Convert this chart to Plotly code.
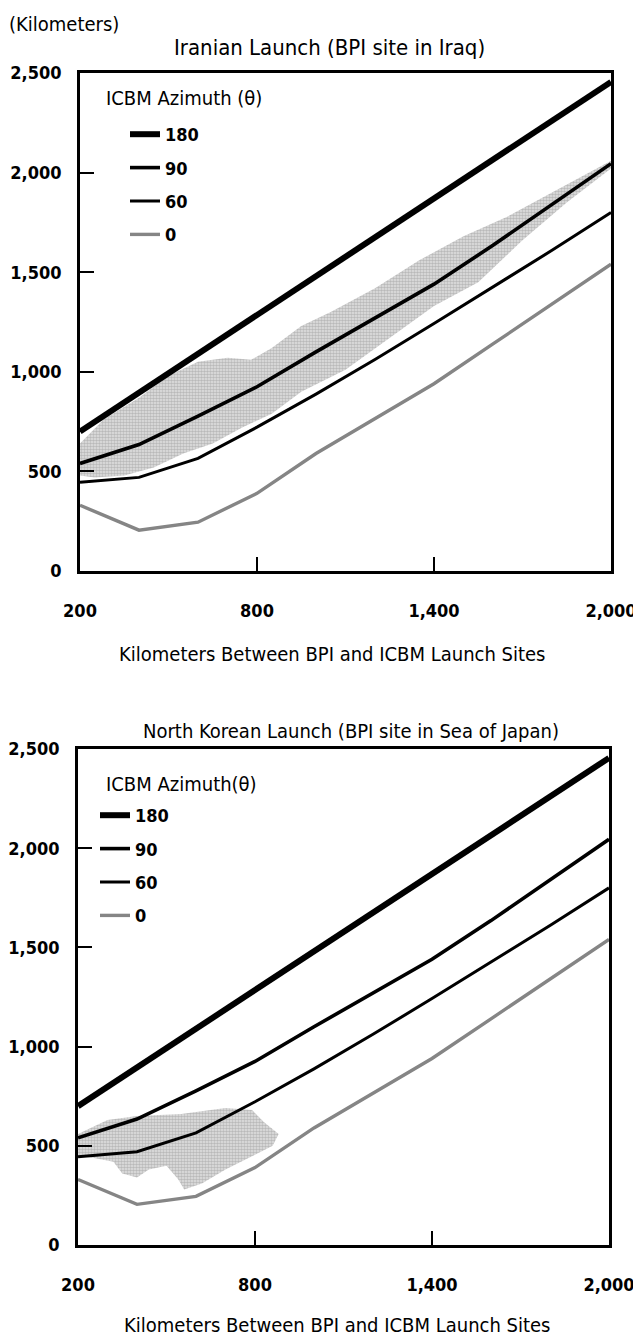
import plotly.graph_objects as go

# ---------------- data ----------------
x_km = [200, 400, 600, 800, 1000, 1200, 1400, 1600, 1800, 2000]
az180 = [700, 895, 1090, 1285, 1480, 1675, 1870, 2065, 2260, 2455]
az90 = [540, 635, 777, 925, 1100, 1270, 1440, 1635, 1840, 2045]
az60 = [445, 470, 565, 722, 888, 1062, 1242, 1425, 1610, 1800]
az0 = [330, 205, 245, 390, 590, 765, 940, 1140, 1340, 1540]

series_names = ["180", "90", "60", "0"]

# shaded (dotted) regions, as boundary points in data units
iran_shade_x = [200, 280, 400, 500, 600, 700, 780, 850, 950, 1050, 1200, 1350, 1500, 1650, 1800, 1950, 2000,
                2000, 1850, 1700, 1550, 1400, 1250, 1100, 950, 850, 750, 650, 550, 450, 350, 250, 200]
iran_shade_y = [640, 760, 870, 980, 1050, 1070, 1060, 1120, 1230, 1300, 1420, 1560, 1680, 1780, 1900, 2020, 2060,
                2020, 1850, 1660, 1450, 1330, 1170, 1010, 900, 790, 720, 640, 590, 520, 480, 470, 480]

korea_shade_x = [200, 300, 400, 550, 700, 790, 830, 880, 860, 780, 700, 620, 560, 540, 500, 440, 400, 350, 320, 250, 200]
korea_shade_y = [560, 630, 650, 660, 690, 680, 620, 560, 500, 440, 380, 310, 280, 330, 400, 380, 340, 360, 420, 440, 450]

x_ticks = [200, 800, 1400, 2000]
y_ticks = [0, 500, 1000, 1500, 2000, 2500]

# ---------------- styling ----------------
FONT = "DejaVu Sans Condensed, DejaVu Sans, sans-serif"
W, H = 641, 1342
OFF = 8  # page body margin offset of the rendered html
styles = {
    "180": dict(color="#000000", width=6),
    "90": dict(color="#000000", width=3.6),
    "60": dict(color="#000000", width=3),
    "0": dict(color="#858585", width=3.4),
}
values = {"180": az180, "90": az90, "60": az60, "0": az0}

fig = go.Figure()

panels = [
    dict(xa="x", ya="y", legend="legend", shx=iran_shade_x, shy=iran_shade_y),
    dict(xa="x2", ya="y2", legend="legend2", shx=korea_shade_x, shy=korea_shade_y),
]

for p in panels:
    fig.add_trace(go.Scatter(
        x=p["shx"], y=p["shy"], xaxis=p["xa"], yaxis=p["ya"],
        mode="lines", line=dict(width=0), fill="toself",
        fillcolor="rgba(0,0,0,0)",
        fillpattern=dict(shape=".", fgcolor="#8f8f8f", bgcolor="#e2e2e2", size=3, solidity=0.55),
        showlegend=False, hoverinfo="skip"))
    for name in series_names:
        fig.add_trace(go.Scatter(
            x=x_km, y=values[name], xaxis=p["xa"], yaxis=p["ya"],
            mode="lines", name=name, line=styles[name],
            legend=p["legend"], legendgroup=p["legend"] + name))


def px_x(v):
    return (v - OFF) / W


def px_y(v):
    return 1 - (v - OFF) / H


axis_common = dict(
    showline=True, linecolor="black", linewidth=2.8, mirror=True,
    showgrid=False, zeroline=False, automargin=False,
    ticks="inside", ticklen=14, tickwidth=1.6, tickcolor="black",
    tickfont=dict(family=FONT, size=18, color="black", weight="bold"),
    tickformat=",d",
)

legend_font = dict(family=FONT, size=18, color="black", weight="bold")
fig.update_layout(
    width=W, height=H,
    margin=dict(l=0, r=0, t=0, b=0, autoexpand=False),
    paper_bgcolor="white", plot_bgcolor="white",
    showlegend=True,
    xaxis=dict(domain=[px_x(80), px_x(611)], range=[200, 2000], tickvals=x_ticks, anchor="y",
               ticklabelstandoff=21, **axis_common),
    yaxis=dict(domain=[px_y(571), px_y(73)], range=[0, 2500], tickvals=y_ticks, anchor="x",
               ticklabelstandoff=12, **axis_common),
    xaxis2=dict(domain=[px_x(78), px_x(609)], range=[200, 2000], tickvals=x_ticks, anchor="y2",
                ticklabelstandoff=21, **axis_common),
    yaxis2=dict(domain=[px_y(1245), px_y(749)], range=[0, 2500], tickvals=y_ticks, anchor="x2",
                ticklabelstandoff=12, **axis_common),
    legend=dict(x=px_x(125), y=px_y(116), xanchor="left", yanchor="top",
                bgcolor="rgba(0,0,0,0)", tracegroupgap=7, font=legend_font),
    legend2=dict(x=px_x(95), y=px_y(797), xanchor="left", yanchor="top",
                 bgcolor="rgba(0,0,0,0)", tracegroupgap=7, font=legend_font),
)

annotations = [
    dict(text="(Kilometers)", x=px_x(7), y=px_y(24), xanchor="left", yanchor="middle", size=20),
    dict(text="Iranian Launch (BPI site in Iraq)", x=px_x(330), y=px_y(47), xanchor="center", yanchor="middle", size=22),
    dict(text="ICBM Azimuth (θ)", x=px_x(104), y=px_y(98), xanchor="left", yanchor="middle", size=20),
    dict(text="Kilometers Between BPI and ICBM Launch Sites", x=px_x(333), y=px_y(654), xanchor="center", yanchor="middle", size=20),
    dict(text="North Korean Launch (BPI site in Sea of Japan)", x=px_x(351), y=px_y(731), xanchor="center", yanchor="middle", size=20),
    dict(text="ICBM Azimuth(θ)", x=px_x(104), y=px_y(784), xanchor="left", yanchor="middle", size=20),
    dict(text="Kilometers Between BPI and ICBM Launch Sites", x=px_x(337), y=px_y(1325), xanchor="center", yanchor="middle", size=20),
]
for a in annotations:
    size = a.pop("size")
    fig.add_annotation(xref="paper", yref="paper", showarrow=False,
                       font=dict(family=FONT, size=size, color="black"), **a)

fig.write_html("out.html")
